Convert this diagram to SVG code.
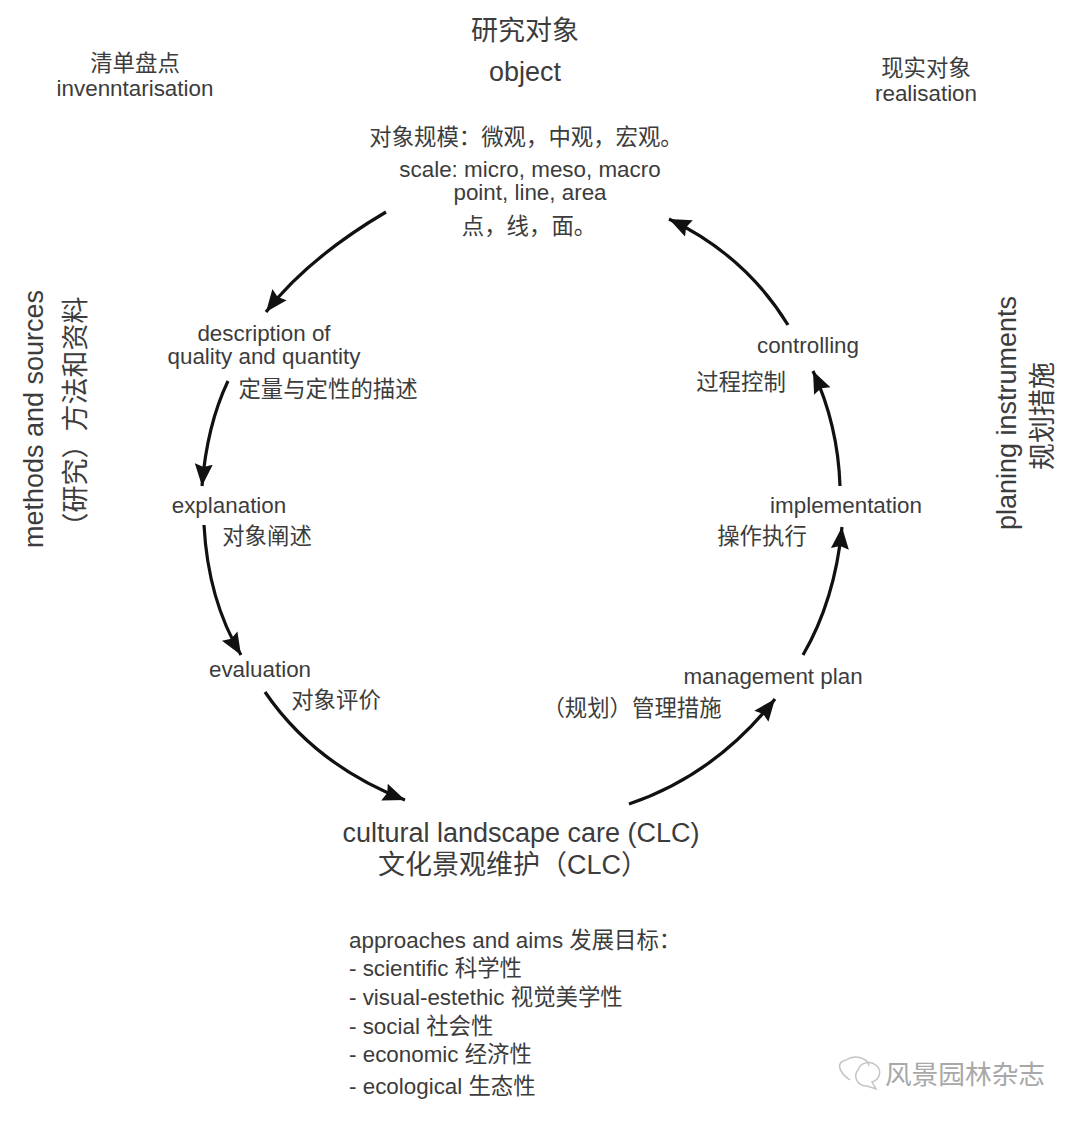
<svg xmlns="http://www.w3.org/2000/svg" width="1080" height="1122" viewBox="0 0 1080 1122">
<defs><marker id="a" markerUnits="userSpaceOnUse" markerWidth="24" markerHeight="20" refX="22" refY="10" orient="auto"><path d="M0 1L22 10L0 19L3 10Z" fill="#111"/></marker></defs>
<style>
text{font-family:"Liberation Sans","Noto Sans CJK SC",sans-serif;fill:#3c3c3c;font-size:22.4px;text-anchor:middle}
.l{font-size:27px}
.t text{text-anchor:start}
.c path{fill:none;stroke:#111;stroke-width:3.2;marker-end:url(#a)}
.w{fill:none;stroke:#c4c4c4;stroke-width:1.5}
</style>
<rect width="1080" height="1122" fill="#fff"/>
<g class="c" id="connectors">
<path d="M386 212Q308 258 266 312"/>
<path d="M228 381Q207 425 202 486"/>
<path d="M204 525Q208 600 241 655"/>
<path d="M265 692Q315 765 405 800"/>
<path d="M629 804Q715 775 775 699"/>
<path d="M803 655Q835 600 842 527"/>
<path d="M840 486Q838 425 813 371"/>
<path d="M788 325Q745 255 669 219"/>
</g>
<g id="object"><text x="525" y="40" class="l">研究对象</text><text x="525" y="81" class="l">object</text></g>
<g id="inv"><text x="135" y="71">清单盘点</text><text x="135" y="96">invenntarisation</text></g>
<g id="real"><text x="926" y="76">现实对象</text><text x="926" y="101">realisation</text></g>
<g id="scale"><text x="526" y="145">对象规模：微观，中观，宏观。</text><text x="530" y="177">scale: micro, meso, macro</text><text x="530" y="200">point, line, area</text><text x="529" y="234">点，线，面。</text></g>
<g id="desc"><text x="264" y="341">description of</text><text x="264" y="364">quality and quantity</text><text x="328" y="397">定量与定性的描述</text></g>
<g id="expl"><text x="229" y="513">explanation</text><text x="267" y="544">对象阐述</text></g>
<g id="eval"><text x="260" y="677">evaluation</text><text x="336" y="708">对象评价</text></g>
<g id="clc"><text x="521" y="842" class="l">cultural landscape care (CLC)</text><text x="513" y="874" class="l">文化景观维护（CLC）</text></g>
<g id="plan"><text x="773" y="684">management plan</text><text x="632" y="716">（规划）管理措施</text></g>
<g id="impl"><text x="846" y="513">implementation</text><text x="762" y="544">操作执行</text></g>
<g id="ctrl"><text x="808" y="353">controlling</text><text x="741" y="390">过程控制</text></g>
<g id="methods"><text transform="translate(43 419) rotate(-90)" class="l">methods and sources</text><text transform="translate(85 418) rotate(-90)" class="l">（研究）方法和资料</text></g>
<g id="instr"><text transform="translate(1016 413) rotate(-90)" class="l">planing instruments</text><text transform="translate(1052 416) rotate(-90)" class="l">规划措施</text></g>
<g id="aims" class="t"><text x="349" y="948">approaches and aims 发展目标：</text><text x="349" y="976">- scientific 科学性</text><text x="349" y="1005">- visual-estethic 视觉美学性</text><text x="349" y="1034">- social 社会性</text><text x="349" y="1062">- economic 经济性</text><text x="349" y="1094">- ecological 生态性</text></g>
<g id="wm"><path class="w" d="M850 1080C838 1072 836 1062 846 1060C855 1054 868 1058 869 1066M858 1070a11 10 0 1 1 14 12L876 1089L867 1086A11 10 0 0 1 858 1070Z"/><text x="965" y="1084" style="font-size:26.7px;fill:#a8a8a8">风景园林杂志</text></g>
</svg>
